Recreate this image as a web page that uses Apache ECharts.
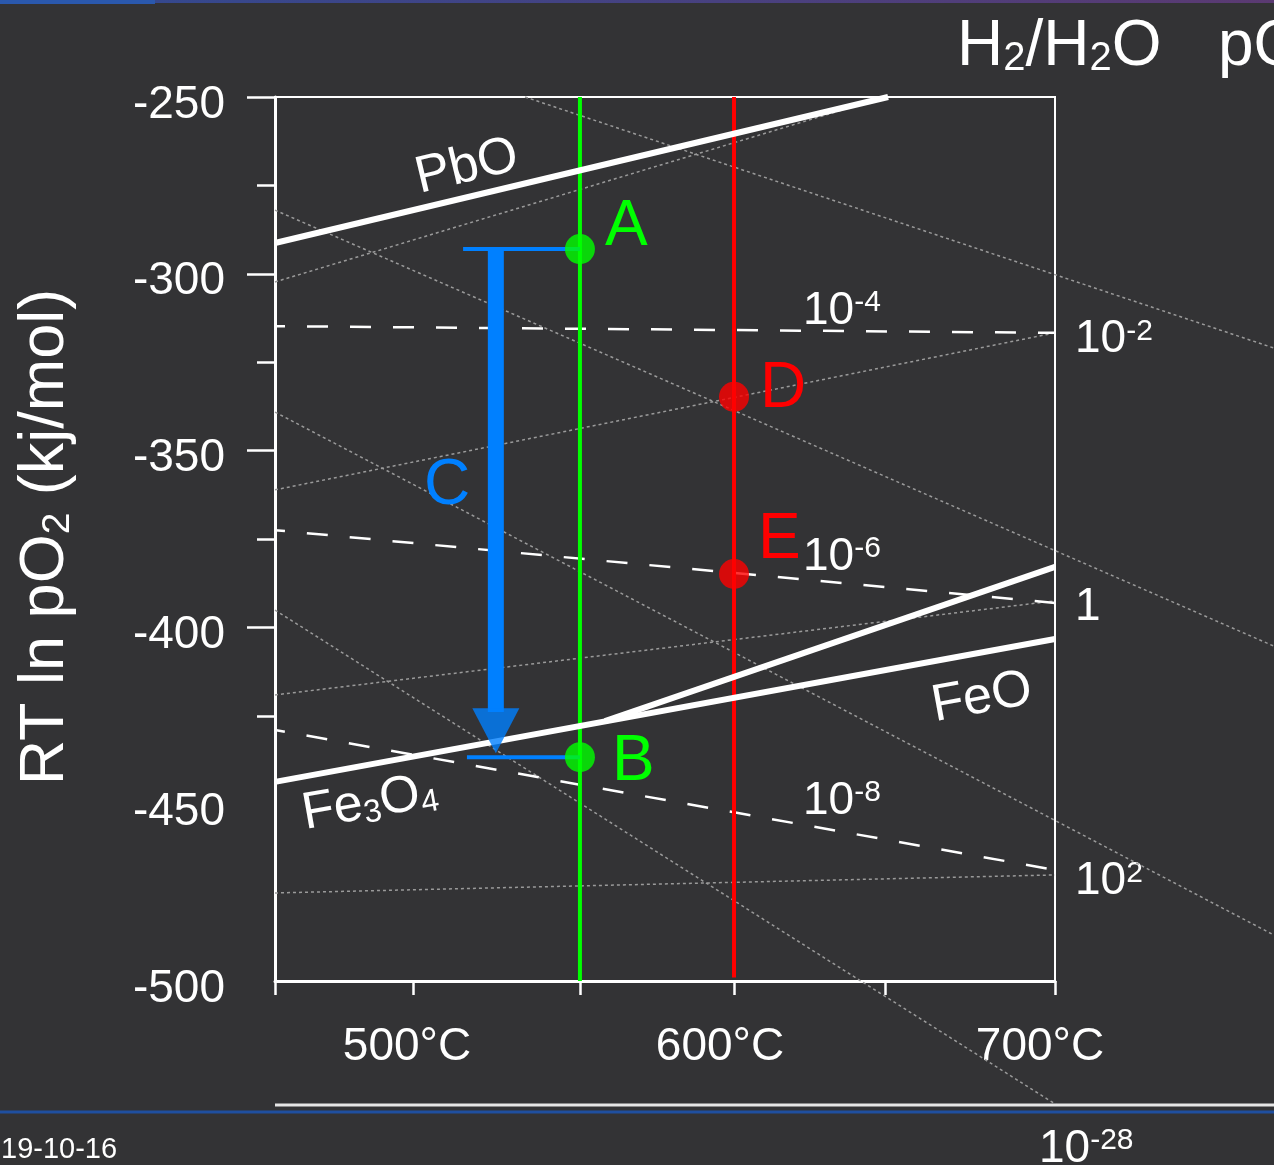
<!DOCTYPE html>
<html><head><meta charset="utf-8">
<script src="https://cdn.jsdelivr.net/npm/echarts@6.0.0/dist/echarts.min.js"></script>
<style>html,body{margin:0;padding:0;background:#333335;overflow:hidden}#c{width:1274px;height:1165px}</style>
</head><body><div id="c"></div>
<script>
// ---------- data (temperature in °C, RT ln pO2 in kJ/mol) ----------
const tempTicks = [457, 500, 552, 600, 647, 700];
const tempLabels = [500, 600, 700];
const energyLabels = [-250, -300, -350, -400, -450, -500];
const energyMajorTicks = [-250, -300, -350, -400];
const energyMinorTicks = [-275, -325, -375, -425];
const ratioScaleValues = [-318.6, -394.4, -471.8];
const ratioScaleLabels = ['10{s|-2}', '1', '10{s|2}'];

const pboLine = [[457, -291.3], [648, -250]];
const fe3o4Line = [[457, -443.7], [700, -403.3]];
const feoLine = [[559.8, -426.5], [700, -382.9]];

const h2h2oDashed1 = [[457, -314.8], [700, -316.7]];
const h2h2oDashed2 = [[457, -372.5], [700, -393.1]];
const h2h2oDashed3 = [[457, -429.0], [700, -468.6]];

const po2Dotted1 = [[534.9, -250], [768.2, -321.0]];
const po2Dotted2 = [[457, -282.0], [768.2, -405.3]];
const po2Dotted3 = [[457, -339.1], [768.2, -487.0]];
const po2Dotted4 = [[457, -395.1], [700.6, -535.1]];

const ratioDotted1 = [[457, -302.3], [647, -250]];
const ratioDotted2 = [[457, -361.1], [700, -316.7]];
const ratioDotted3 = [[457, -419.1], [700, -392.5]];
const ratioDotted4 = [[457, -475.1], [700, -470.0]];

const greenLine = [[552, -250], [552, -500]];
const redLine = [[600, -250], [600, -499]];
const greenPoints = [[552, -293.0], [552, -436.7]];   // A, B
const redPoints = [[600, -334.8], [600, -384.9]];     // D, E

const bracketTop = [[515.6, -293.0], [552, -293.0]];
const bracketBottom = [[516.8, -436.7], [552, -436.7]];
const arrowShaft = [[525.8, -293.0], [525.8, -423.9]];
const arrowHead = [[525.8, -429.2]];

// ---------- chart ----------
const FONT = "'Liberation Sans', Arial, Helvetica, sans-serif";
const W = '#ffffff';
const GREEN = '#00ff00', RED = '#ff0000', BLUE = '#0080ff';

function ln(data, style, z) {
  return {type: 'line', data: data, symbol: 'none', lineStyle: style, z: z,
          clip: true, silent: true, animation: false};
}
function seg(data, style, z, clip) {
  return {type: 'lines', coordinateSystem: 'cartesian2d', xAxisIndex: 0, yAxisIndex: 0,
          data: [{coords: data}], lineStyle: Object.assign({opacity: 1, curveness: 0}, style),
          z: z, clip: clip !== false, silent: true, animation: false, effect: {show: false}};
}
function richFor(size, color) {
  return {
    s: {fontSize: Math.round(size * 0.65), lineHeight: Math.round(size * 0.78), verticalAlign: 'top', fill: color, color: color, fontFamily: FONT},
    b: {fontSize: Math.round(size * 0.62), lineHeight: Math.round(size * 0.32), verticalAlign: 'bottom', fill: color, color: color, fontFamily: FONT}
  };
}
function txt(x, y, text, size, color, align, rot) {
  return {type: 'text', x: x, y: y, rotation: rot || 0, z: 100, silent: true,
    style: {text: text, x: 0, y: 0, fill: color, fontSize: size, fontFamily: FONT, lineHeight: size,
      align: align || 'left', verticalAlign: 'middle', textAlign: align || 'left', textVerticalAlign: 'middle',
      rich: richFor(size, color)}};
}

const chart = echarts.init(document.getElementById('c'), null, {renderer: 'canvas', width: 1274, height: 1165});

const dotted = {color: '#9a9a9a', width: 1.5, type: [3, 3]};
const dashed = {color: W, width: 2.5, type: [21, 22], dashOffset: 11};
const xLabelStyle = ['a', 'b', 'c'];

const option = {
  backgroundColor: '#333335',
  animation: false,
  textStyle: {fontFamily: FONT},
  grid: {left: 275, top: 97, width: 780, height: 884, show: true, borderColor: W, borderWidth: 2, backgroundColor: 'transparent'},
  xAxis: {
    type: 'value', min: 457, max: 700,
    axisLine: {lineStyle: {color: W, width: 3}},
    axisTick: {customValues: tempTicks, length: 14, lineStyle: {color: W, width: 2.5}},
    axisLabel: {
      customValues: tempLabels, color: W, fontSize: 46, lineHeight: 46,
      fontFamily: FONT, margin: 66, verticalAlign: 'middle',
      formatter: function (v) {
        const i = tempLabels.indexOf(Math.round(v));
        return '{' + xLabelStyle[i < 0 ? 0 : i] + '|' + Math.round(v) + '°C}';
      },
      rich: {
        a: {fontSize: 46, color: W, fontFamily: FONT, padding: [0, 12, 0, 0]},
        b: {fontSize: 46, color: W, fontFamily: FONT, padding: [0, 28, 0, 0]},
        c: {fontSize: 46, color: W, fontFamily: FONT, padding: [0, 30, 0, 0]}
      }
    },
    splitLine: {show: false}
  },
  yAxis: [
    {
      type: 'value', min: -500, max: -250, position: 'left',
      axisLine: {lineStyle: {color: W, width: 3}},
      axisTick: {customValues: energyMajorTicks, length: 28, lineStyle: {color: W, width: 2.5}},
      axisLabel: {customValues: energyLabels, color: W, fontSize: 46, lineHeight: 16, fontFamily: FONT,
                  margin: 50, verticalAlign: 'top'},
      splitLine: {show: false}
    },
    {
      type: 'value', min: -500, max: -250, position: 'left',
      axisLine: {show: false},
      axisTick: {customValues: energyMinorTicks, length: 18, lineStyle: {color: W, width: 2.5}},
      axisLabel: {show: false},
      splitLine: {show: false}
    },
    {
      type: 'value', min: -500, max: -250, position: 'right',
      axisLine: {show: true, lineStyle: {color: W, width: 2}},
      axisTick: {show: false},
      axisLabel: {
        customValues: ratioScaleValues, color: W, fontSize: 46, lineHeight: 46, fontFamily: FONT,
        margin: 20, align: 'left',
        formatter: function (v) {
          let best = 0;
          ratioScaleValues.forEach(function (r, i) { if (Math.abs(r - v) < Math.abs(ratioScaleValues[best] - v)) best = i; });
          return ratioScaleLabels[best];
        },
        rich: {s: {fontSize: 30, lineHeight: 36, verticalAlign: 'top', color: W, fontFamily: FONT}}
      },
      splitLine: {show: false}
    }
  ],
  series: [
    seg(po2Dotted1, dotted, 1, false), seg(po2Dotted2, dotted, 1, false),
    seg(po2Dotted3, dotted, 1, false), seg(po2Dotted4, dotted, 1, false),
    seg(ratioDotted1, dotted, 1), seg(ratioDotted2, dotted, 1),
    seg(ratioDotted3, dotted, 1), seg(ratioDotted4, dotted, 1),
    ln(h2h2oDashed1, dashed, 2), ln(h2h2oDashed2, dashed, 2), ln(h2h2oDashed3, dashed, 2),
    ln(greenLine, {color: GREEN, width: 4}, 3),
    ln(redLine, {color: RED, width: 4}, 3),
    ln(pboLine, {color: W, width: 6}, 4),
    ln(fe3o4Line, {color: W, width: 6}, 4),
    ln(feoLine, {color: W, width: 6}, 4),
    ln(bracketTop, {color: BLUE, width: 4}, 5),
    ln(bracketBottom, {color: BLUE, width: 4}, 5),
    ln(arrowShaft, {color: BLUE, width: 16}, 5),
    {type: 'scatter', data: arrowHead, symbol: 'path://M0 0 L10 0 L5 10 Z', symbolSize: [47, 45],
     itemStyle: {color: BLUE}, z: 6, silent: true, animation: false},
    {type: 'scatter', data: greenPoints, symbolSize: 30, itemStyle: {color: GREEN}, z: 7, silent: true, animation: false},
    {type: 'scatter', data: redPoints, symbolSize: 30, itemStyle: {color: RED}, z: 7, silent: true, animation: false}
  ],
  graphic: [
    {type: 'rect', shape: {x: 0, y: 0, width: 155, height: 4}, style: {fill: '#2a58ad'}, z: 100, silent: true},
    {type: 'rect', shape: {x: 155, y: 0, width: 1119, height: 3},
     style: {fill: new echarts.graphic.LinearGradient(0, 0, 1, 0, [{offset: 0, color: '#35488e'}, {offset: 1, color: '#5b3a72'}])}, z: 100, silent: true},
    {type: 'line', shape: {x1: 275, y1: 1105, x2: 1274, y2: 1105}, style: {stroke: '#e6e6e6', lineWidth: 3}, z: 100, silent: true},
    {type: 'line', shape: {x1: 0, y1: 1112, x2: 1274, y2: 1112}, style: {stroke: '#1f4f9f', lineWidth: 3}, z: 100, silent: true},

    txt(46, 537, 'RT ln pO{b|2} (kj/mol)', 63, W, 'center', Math.PI / 2),
    txt(957, 47, 'H{b|2}/H{b|2}O', 64, W, 'left'),
    txt(1218, 47, 'pO{b|2}', 64, W, 'left'),

    txt(803, 311, '10{s|-4}', 46, W, 'left'),
    txt(803, 557, '10{s|-6}', 46, W, 'left'),
    txt(803, 801, '10{s|-8}', 46, W, 'left'),
    txt(1039, 1149, '10{s|-28}', 46, W, 'left'),

    txt(467, 167, 'PbO', 52, W, 'center', 0.236),
    txt(982, 698, 'FeO', 52, W, 'center', 0.183),
    txt(370, 803, 'Fe{b|3}O{b|4}', 52, W, 'center', 0.175),

    txt(605, 227, 'A', 64, GREEN, 'left'),
    txt(612, 762, 'B', 64, GREEN, 'left'),
    txt(760, 389, 'D', 64, RED, 'left'),
    txt(758, 540, 'E', 64, RED, 'left'),
    txt(424, 486, 'C', 64, BLUE, 'left'),

    txt(1, 1150, '19-10-16', 29, W, 'left')
  ]
};
chart.setOption(option);
</script>
</body></html>
